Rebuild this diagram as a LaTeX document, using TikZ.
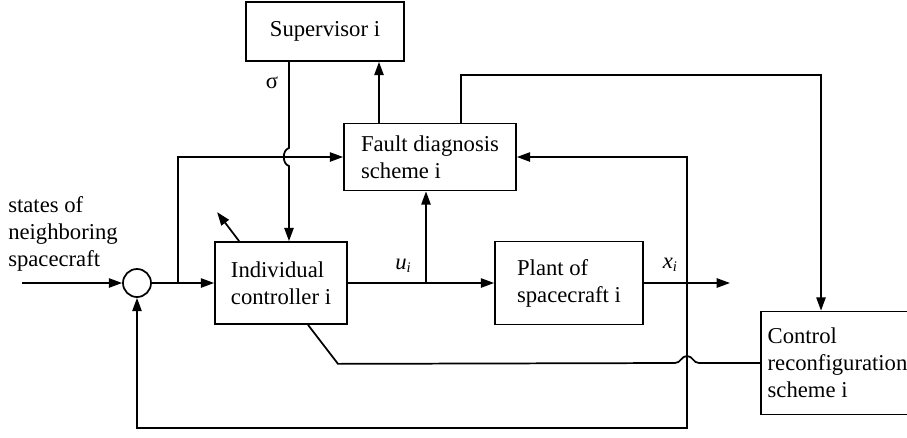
\documentclass[tikz,border=0pt]{standalone}
\usepackage{fontspec}
\setmainfont{Liberation Serif}
\usetikzlibrary{arrows.meta,calc}
\newcommand\subidx{\raisebox{-0.25ex}{\fontsize{11}{11}\selectfont\textit{i}}}
\begin{document}
\begin{tikzpicture}[x=0.75pt,y=-0.75pt,
  ln/.style={line width=1.3pt},
  arr/.style={line width=1.3pt,-{Triangle[length=10pt,width=7pt]}},
  blk/.style={draw,line width=1.3pt,align=left,inner sep=0pt,font=\fontsize{17}{20.25}\selectfont},
  lbl/.style={inner sep=0pt,font=\fontsize{17}{20.25}\selectfont}]
\useasboundingbox (0,0) rectangle (907,437);
\clip (0,0) rectangle (907,437);

\node[blk,minimum width=118.5pt,minimum height=44.25pt] (sup) at (325,31.5) {Supervisor i};
\node[blk,minimum width=129pt,minimum height=50.25pt] (fault) at (430,157) {Fault diagnosis\\scheme i};
\node[blk,minimum width=99pt,minimum height=61.5pt] (ctrl) at (281,283) {Individual\\controller i};
\node[blk,minimum width=111pt,minimum height=62.25pt] (plant) at (569,283) {Plant of\\spacecraft i};
\node[blk,minimum width=114.75pt,minimum height=77.25pt] (rc) at (837.5,363) {Control\\reconfiguration\\scheme i};
\node[draw,circle,line width=1.3pt,minimum size=21pt,inner sep=0pt] (sum) at (137,283) {};

\node[lbl,anchor=west,align=left] (states) at (8,234) {states of\\neighboring\\spacecraft};
\node[lbl] (sigma) at (272,83) {σ};
\node[lbl] (ulbl) at (403,266) {\textit{u}\subidx};
\node[lbl] (xlbl) at (670,265) {\textit{x}\subidx};

\coordinate (in) at (22,283);
\coordinate (j1) at (178,283);
\coordinate (sx) at (289,0);
\coordinate (fx) at (379,0);
\coordinate (gx) at (461,0);
\coordinate (rx) at (821,0);
\coordinate (top) at (0,75);
\coordinate (ux) at (426,0);
\coordinate (out) at (730,283);
\coordinate (fbx) at (687,0);
\coordinate (bot) at (0,428);
\coordinate (dx) at (308,0);

\draw[arr] (in) -- (sum.west);
\draw[arr] (sum.east) -- (ctrl.west);
\draw[arr] (j1) |- (fault.west);
\draw[arr] (sup.south -| sx) -- ($(sx |- fault.west)+(0,-9)$)
  .. controls +(-7,2) and +(-7,-2) .. ($(sx |- fault.west)+(0,9)$) -- (ctrl.north -| sx);
\draw[arr] (fault.north -| fx) -- (sup.south -| fx);
\draw[arr] (fault.north -| gx) -- (gx |- top) -- (rx |- top) -- (rc.north -| rx);
\draw[arr] (ctrl.east) -- (plant.west);
\draw[arr] (ctrl.east -| ux) -- (fault.south -| ux);
\draw[arr] (plant.east) -- (out);
\draw[line width=1.3pt,{Triangle[length=10pt,width=7pt]}-{Triangle[length=10pt,width=7pt]}]
  (fault.east) -| (fbx |- bot) -| (sum.south);
\draw[arr] ($(ctrl.north west)+(25,0)$) -- +(-22,-29);
\draw[ln] (ctrl.south -| dx) -- ++(30,39) -- ($(fbx |- rc.west)+(-12,0)$)
  .. controls +(6,0) and +(-6,0) .. ($(fbx |- rc.west)+(0,-7)$)
  .. controls +(6,0) and +(-6,0) .. ($(fbx |- rc.west)+(12,0)$) -- (rc.west);
\end{tikzpicture}
\end{document}
